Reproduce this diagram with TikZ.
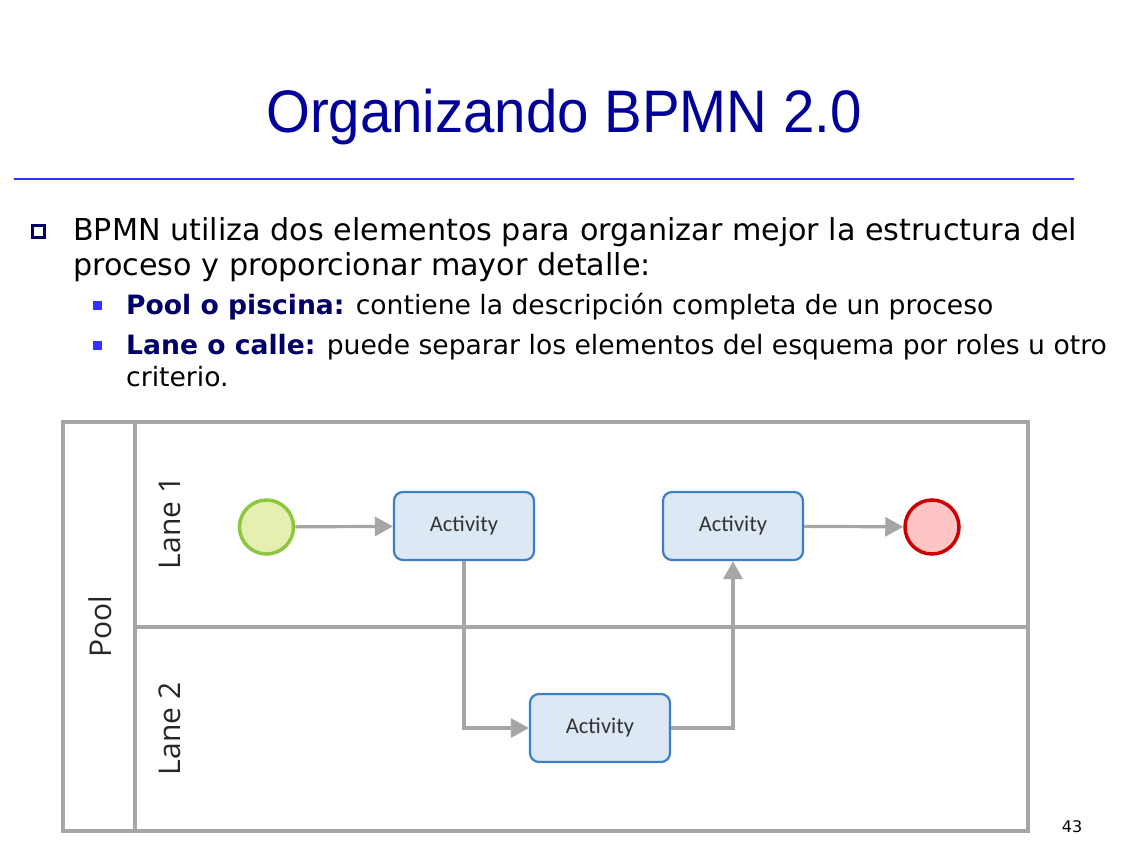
\documentclass[tikz,border=0pt]{standalone}
\usepackage{fontspec}
\setmainfont{DejaVu Sans}
\newfontfamily\titlefont{Liberation Sans}
\newfontfamily\lanefont{Open Sans}
\newfontfamily\actfont{Carlito}
\usetikzlibrary{arrows.meta}

\definecolor{titleblue}{RGB}{0,0,153}
\definecolor{ruleblue}{RGB}{51,51,255}
\definecolor{navy}{RGB}{0,0,102}
\definecolor{poolgray}{RGB}{166,166,166}
\definecolor{actfill}{RGB}{221,232,245}
\definecolor{actdraw}{RGB}{61,126,196}
\definecolor{startfill}{RGB}{230,238,176}
\definecolor{startdraw}{RGB}{141,198,63}
\definecolor{endfill}{RGB}{255,196,196}
\definecolor{enddraw}{RGB}{204,0,0}

\begin{document}
\begin{tikzpicture}[x=1pt,y=-1pt,
  bodytext/.style={anchor=base west, inner sep=0pt, font=\fontsize{30.2}{31}\selectfont},
  subtext/.style={anchor=base west, inner sep=0pt, font=\fontsize{26.6}{27}\selectfont},
  subbullet/.style={fill=ruleblue, minimum size=9pt, inner sep=0pt},
  pool/.style={draw=poolgray, line width=3.2pt},
  lanelabel/.style={rotate=90, inner sep=0pt, font=\lanefont\fontsize{30}{30}\selectfont, text=black!85},
  activity/.style={draw=actdraw, fill=actfill, line width=2.2pt, rounded corners=9pt,
    minimum width=140pt, minimum height=68pt, inner sep=0pt,
    font=\actfont\fontsize{22.5}{22.5}\selectfont, text=black!80},
  startevent/.style={circle, draw=startdraw, fill=startfill, line width=3.5pt, minimum size=54pt, inner sep=0pt},
  endevent/.style={circle, draw=enddraw, fill=endfill, line width=3.5pt, minimum size=54pt, inner sep=0pt},
  flow/.style={draw=poolgray, line width=3.2pt, -{Triangle[length=18pt,width=19pt]}},
]
\useasboundingbox (0,0) rectangle (1147,861);
\fill[white] (0,0) rectangle (1147,861);

% heading
\node[anchor=base, inner sep=0pt, text=titleblue, font=\titlefont\fontsize{60}{60}\selectfont]
  (title) at (564,133) {\scalebox{0.94}[1]{Organizando BPMN 2.0}};
\draw[ruleblue, line width=2pt] (14,179) -- (1074,179);

% bullet list
\node[draw=navy, line width=2.5pt, minimum size=12pt, inner sep=0pt] (b0) at (38.5,231.5) {};
\node[bodytext] (l1) at (73,240) {BPMN utiliza dos elementos para organizar mejor la estructura del};
\node[bodytext] (l2) at (73,275) {proceso y proporcionar mayor detalle:};
\node[subbullet] (b1) at (97,305) {};
\node[subtext] (s1) at (126,314) {\textcolor{navy}{\bfseries Pool o piscina:} contiene la descripción completa de un proceso};
\node[subbullet] (b2) at (97,345) {};
\node[subtext] (s2) at (126,354) {\textcolor{navy}{\bfseries Lane o calle:} puede separar los elementos del esquema por roles u otro};
\node[subtext] (s3) at (126,386) {criterio.};

% pool with two lanes
\draw[pool] (63,422) rectangle (1028,831);
\draw[pool] (135,422) -- (135,831);
\draw[pool] (135,627) -- (1028,627);
\node[lanelabel] (poollbl) at (100,627) {Pool};
\node[lanelabel] (lane1) at (170,523) {Lane 1};
\node[lanelabel] (lane2) at (170,729) {Lane 2};

% process elements
\node[startevent] (start) at (266.5,527) {};
\node[activity] (a1) at (464,526) {Activity};
\node[activity] (a2) at (733,526) {Activity};
\node[endevent] (end) at (932,527) {};
\node[activity] (a3) at (600,728) {Activity};

% sequence flows
\draw[flow] (start) -- (a1);
\draw[flow] (a1.south) |- (a3.west);
\draw[flow] (a3.east) -| (a2.south);
\draw[flow] (a2) -- (end);

% page number
\node[inner sep=0pt, font=\fontsize{16}{16}\selectfont] (pagenum) at (1072,827) {43};
\end{tikzpicture}
\end{document}
